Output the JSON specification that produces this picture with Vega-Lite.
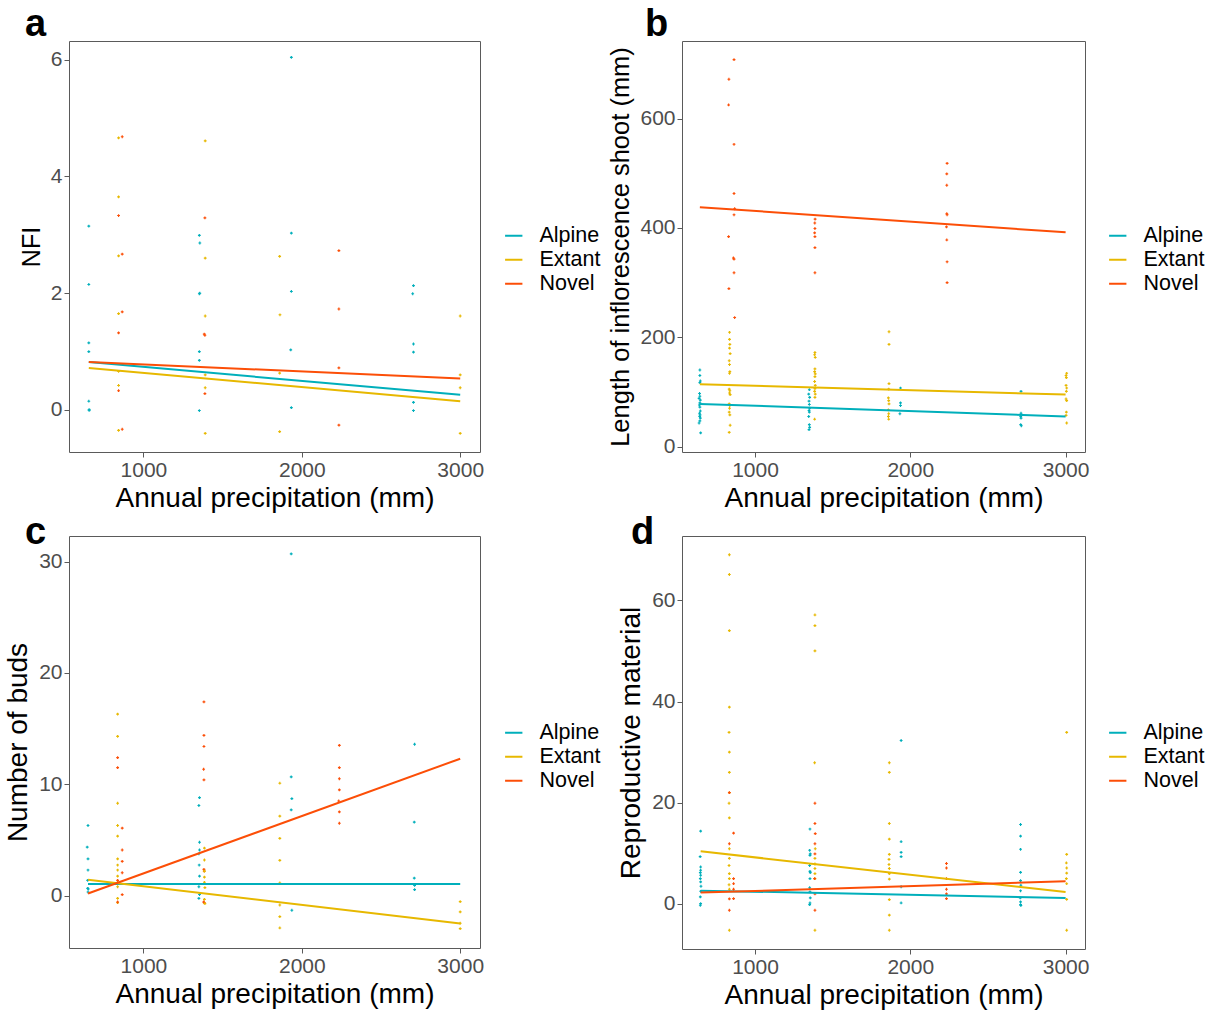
{
  "$schema": "https://vega.github.io/schema/vega-lite/v6.json",
  "padding": {"left": 4, "top": 5, "right": 0, "bottom": 0},
  "background": "white",
  "datasets": {
    "pts": [
      {"p":"a","g":"Alpine","x":655,"y":3.15},{"p":"a","g":"Alpine","x":655,"y":2.15},{"p":"a","g":"Alpine","x":655,"y":1.15},{"p":"a","g":"Alpine","x":655,"y":1.0},{"p":"a","g":"Alpine","x":655,"y":0.15},{"p":"a","g":"Alpine","x":655,"y":0.0},{"p":"a","g":"Alpine","x":660,"y":0.0},
      {"p":"a","g":"Extant","x":843,"y":4.66},{"p":"a","g":"Extant","x":843,"y":3.65},{"p":"a","g":"Extant","x":843,"y":2.64},{"p":"a","g":"Extant","x":843,"y":1.65},{"p":"a","g":"Extant","x":843,"y":0.66},{"p":"a","g":"Extant","x":843,"y":0.42},{"p":"a","g":"Extant","x":843,"y":-0.35},
      {"p":"a","g":"Novel","x":866,"y":4.68},{"p":"a","g":"Novel","x":843,"y":3.33},{"p":"a","g":"Novel","x":866,"y":2.67},{"p":"a","g":"Novel","x":866,"y":1.68},{"p":"a","g":"Novel","x":843,"y":1.32},{"p":"a","g":"Novel","x":843,"y":0.33},{"p":"a","g":"Novel","x":866,"y":-0.33},
      {"p":"a","g":"Alpine","x":1353,"y":2.99},{"p":"a","g":"Alpine","x":1356,"y":2.86},{"p":"a","g":"Alpine","x":1353,"y":1.99},{"p":"a","g":"Alpine","x":1356,"y":2.0},{"p":"a","g":"Alpine","x":1353,"y":1.0},{"p":"a","g":"Alpine","x":1353,"y":0.85},{"p":"a","g":"Alpine","x":1353,"y":-0.01},
      {"p":"a","g":"Extant","x":1390,"y":4.61},{"p":"a","g":"Extant","x":1390,"y":2.6},{"p":"a","g":"Extant","x":1390,"y":1.61},{"p":"a","g":"Extant","x":1390,"y":0.6},{"p":"a","g":"Extant","x":1390,"y":0.38},{"p":"a","g":"Extant","x":1390,"y":-0.4},
      {"p":"a","g":"Novel","x":1388,"y":3.29},{"p":"a","g":"Novel","x":1388,"y":1.28},{"p":"a","g":"Novel","x":1384,"y":1.3},{"p":"a","g":"Novel","x":1388,"y":0.28},
      {"p":"a","g":"Alpine","x":1934,"y":6.04},{"p":"a","g":"Alpine","x":1934,"y":3.03},{"p":"a","g":"Alpine","x":1934,"y":2.03},{"p":"a","g":"Alpine","x":1930,"y":1.03},{"p":"a","g":"Alpine","x":1934,"y":0.04},
      {"p":"a","g":"Extant","x":1860,"y":2.63},{"p":"a","g":"Extant","x":1862,"y":1.63},{"p":"a","g":"Extant","x":1860,"y":0.63},{"p":"a","g":"Extant","x":1860,"y":-0.37},
      {"p":"a","g":"Novel","x":2234,"y":2.73},{"p":"a","g":"Novel","x":2234,"y":1.73},{"p":"a","g":"Novel","x":2234,"y":0.72},{"p":"a","g":"Novel","x":2234,"y":-0.26},
      {"p":"a","g":"Alpine","x":2705,"y":2.13},{"p":"a","g":"Alpine","x":2700,"y":1.99},{"p":"a","g":"Alpine","x":2705,"y":1.13},{"p":"a","g":"Alpine","x":2705,"y":0.99},{"p":"a","g":"Alpine","x":2705,"y":0.13},{"p":"a","g":"Alpine","x":2705,"y":-0.01},
      {"p":"a","g":"Extant","x":3000,"y":1.61},{"p":"a","g":"Extant","x":3000,"y":0.6},{"p":"a","g":"Extant","x":3000,"y":0.38},{"p":"a","g":"Extant","x":3000,"y":-0.4},

      {"p":"b","g":"Alpine","x":645,"y":140},{"p":"b","g":"Alpine","x":645,"y":130},{"p":"b","g":"Alpine","x":648,"y":120},{"p":"b","g":"Alpine","x":645,"y":117},{"p":"b","g":"Alpine","x":643,"y":97},{"p":"b","g":"Alpine","x":645,"y":92},{"p":"b","g":"Alpine","x":640,"y":88},{"p":"b","g":"Alpine","x":648,"y":85},{"p":"b","g":"Alpine","x":645,"y":80},{"p":"b","g":"Alpine","x":642,"y":76},{"p":"b","g":"Alpine","x":645,"y":72},{"p":"b","g":"Alpine","x":648,"y":65},{"p":"b","g":"Alpine","x":643,"y":61},{"p":"b","g":"Alpine","x":646,"y":58},{"p":"b","g":"Alpine","x":644,"y":55},{"p":"b","g":"Alpine","x":648,"y":52},{"p":"b","g":"Alpine","x":645,"y":47},{"p":"b","g":"Alpine","x":640,"y":43},{"p":"b","g":"Alpine","x":650,"y":25},
      {"p":"b","g":"Extant","x":836,"y":209},{"p":"b","g":"Extant","x":836,"y":196},{"p":"b","g":"Extant","x":838,"y":187},{"p":"b","g":"Extant","x":836,"y":180},{"p":"b","g":"Extant","x":840,"y":170},{"p":"b","g":"Extant","x":834,"y":157},{"p":"b","g":"Extant","x":836,"y":150},{"p":"b","g":"Extant","x":838,"y":137},{"p":"b","g":"Extant","x":836,"y":134},{"p":"b","g":"Extant","x":834,"y":105},{"p":"b","g":"Extant","x":838,"y":102},{"p":"b","g":"Extant","x":836,"y":98},{"p":"b","g":"Extant","x":840,"y":95},{"p":"b","g":"Extant","x":834,"y":78},{"p":"b","g":"Extant","x":838,"y":75},{"p":"b","g":"Extant","x":836,"y":70},{"p":"b","g":"Extant","x":834,"y":63},{"p":"b","g":"Extant","x":838,"y":58},{"p":"b","g":"Extant","x":840,"y":39},{"p":"b","g":"Extant","x":834,"y":26},
      {"p":"b","g":"Novel","x":865,"y":708},{"p":"b","g":"Novel","x":832,"y":672},{"p":"b","g":"Novel","x":830,"y":625},{"p":"b","g":"Novel","x":865,"y":553},{"p":"b","g":"Novel","x":865,"y":463},{"p":"b","g":"Novel","x":869,"y":435},{"p":"b","g":"Novel","x":865,"y":424},{"p":"b","g":"Novel","x":830,"y":384},{"p":"b","g":"Novel","x":861,"y":345},{"p":"b","g":"Novel","x":865,"y":343},{"p":"b","g":"Novel","x":865,"y":318},{"p":"b","g":"Novel","x":832,"y":289},{"p":"b","g":"Novel","x":869,"y":236},
      {"p":"b","g":"Alpine","x":1350,"y":104},{"p":"b","g":"Alpine","x":1346,"y":96},{"p":"b","g":"Alpine","x":1352,"y":90},{"p":"b","g":"Alpine","x":1348,"y":83},{"p":"b","g":"Alpine","x":1350,"y":77},{"p":"b","g":"Alpine","x":1352,"y":70},{"p":"b","g":"Alpine","x":1348,"y":66},{"p":"b","g":"Alpine","x":1350,"y":63},{"p":"b","g":"Alpine","x":1346,"y":55},{"p":"b","g":"Alpine","x":1350,"y":40},{"p":"b","g":"Alpine","x":1352,"y":35},{"p":"b","g":"Alpine","x":1348,"y":31},
      {"p":"b","g":"Extant","x":1386,"y":172},{"p":"b","g":"Extant","x":1384,"y":168},{"p":"b","g":"Extant","x":1388,"y":163},{"p":"b","g":"Extant","x":1386,"y":142},{"p":"b","g":"Extant","x":1384,"y":137},{"p":"b","g":"Extant","x":1388,"y":133},{"p":"b","g":"Extant","x":1386,"y":128},{"p":"b","g":"Extant","x":1384,"y":119},{"p":"b","g":"Extant","x":1388,"y":112},{"p":"b","g":"Extant","x":1386,"y":106},{"p":"b","g":"Extant","x":1384,"y":101},{"p":"b","g":"Extant","x":1388,"y":96},{"p":"b","g":"Extant","x":1386,"y":90},{"p":"b","g":"Extant","x":1384,"y":50},
      {"p":"b","g":"Novel","x":1387,"y":416},{"p":"b","g":"Novel","x":1385,"y":409},{"p":"b","g":"Novel","x":1386,"y":399},{"p":"b","g":"Novel","x":1384,"y":391},{"p":"b","g":"Novel","x":1386,"y":384},{"p":"b","g":"Novel","x":1386,"y":364},{"p":"b","g":"Novel","x":1386,"y":318},
      {"p":"b","g":"Extant","x":1863,"y":210},{"p":"b","g":"Extant","x":1863,"y":187},{"p":"b","g":"Extant","x":1863,"y":115},{"p":"b","g":"Extant","x":1861,"y":105},{"p":"b","g":"Extant","x":1859,"y":89},{"p":"b","g":"Extant","x":1861,"y":84},{"p":"b","g":"Extant","x":1863,"y":78},{"p":"b","g":"Extant","x":1859,"y":67},{"p":"b","g":"Extant","x":1861,"y":60},{"p":"b","g":"Extant","x":1859,"y":55},{"p":"b","g":"Extant","x":1861,"y":50},
      {"p":"b","g":"Alpine","x":1937,"y":107},{"p":"b","g":"Alpine","x":1937,"y":80},{"p":"b","g":"Alpine","x":1937,"y":75},{"p":"b","g":"Alpine","x":1933,"y":60},
      {"p":"b","g":"Novel","x":2237,"y":518},{"p":"b","g":"Novel","x":2235,"y":499},{"p":"b","g":"Novel","x":2235,"y":478},{"p":"b","g":"Novel","x":2235,"y":426},{"p":"b","g":"Novel","x":2237,"y":424},{"p":"b","g":"Novel","x":2233,"y":402},{"p":"b","g":"Novel","x":2235,"y":378},{"p":"b","g":"Novel","x":2237,"y":338},{"p":"b","g":"Novel","x":2237,"y":300},
      {"p":"b","g":"Alpine","x":2713,"y":101},{"p":"b","g":"Alpine","x":2713,"y":61},{"p":"b","g":"Alpine","x":2711,"y":55},{"p":"b","g":"Alpine","x":2713,"y":52},{"p":"b","g":"Alpine","x":2711,"y":40},{"p":"b","g":"Alpine","x":2715,"y":38},
      {"p":"b","g":"Extant","x":3007,"y":134},{"p":"b","g":"Extant","x":3003,"y":130},{"p":"b","g":"Extant","x":3005,"y":126},{"p":"b","g":"Extant","x":3003,"y":112},{"p":"b","g":"Extant","x":3007,"y":107},{"p":"b","g":"Extant","x":3005,"y":101},{"p":"b","g":"Extant","x":3003,"y":87},{"p":"b","g":"Extant","x":3007,"y":84},{"p":"b","g":"Extant","x":3005,"y":63},{"p":"b","g":"Extant","x":3003,"y":57},{"p":"b","g":"Extant","x":3007,"y":43},

      {"p":"c","g":"Alpine","x":650,"y":6.3},{"p":"c","g":"Alpine","x":645,"y":4.36},{"p":"c","g":"Alpine","x":650,"y":3.3},{"p":"c","g":"Alpine","x":650,"y":2.3},{"p":"c","g":"Alpine","x":648,"y":1.37},{"p":"c","g":"Alpine","x":648,"y":0.66},{"p":"c","g":"Alpine","x":652,"y":0.6},{"p":"c","g":"Alpine","x":650,"y":0.33},
      {"p":"c","g":"Extant","x":837,"y":16.3},{"p":"c","g":"Extant","x":837,"y":14.3},{"p":"c","g":"Extant","x":837,"y":8.3},{"p":"c","g":"Extant","x":837,"y":6.3},{"p":"c","g":"Extant","x":837,"y":5.35},{"p":"c","g":"Extant","x":837,"y":3.3},{"p":"c","g":"Extant","x":837,"y":2.75},{"p":"c","g":"Extant","x":837,"y":2.3},{"p":"c","g":"Extant","x":837,"y":1.76},{"p":"c","g":"Extant","x":837,"y":1.2},{"p":"c","g":"Extant","x":837,"y":0.8},{"p":"c","g":"Extant","x":837,"y":-0.24},{"p":"c","g":"Extant","x":837,"y":-0.63},
      {"p":"c","g":"Novel","x":837,"y":12.4},{"p":"c","g":"Novel","x":837,"y":11.5},{"p":"c","g":"Novel","x":866,"y":6.07},{"p":"c","g":"Novel","x":866,"y":4.1},{"p":"c","g":"Novel","x":866,"y":3.08},{"p":"c","g":"Novel","x":866,"y":2.06},{"p":"c","g":"Novel","x":837,"y":1.37},{"p":"c","g":"Novel","x":866,"y":0.09},{"p":"c","g":"Novel","x":837,"y":-0.57},
      {"p":"c","g":"Alpine","x":1354,"y":8.8},{"p":"c","g":"Alpine","x":1350,"y":8.1},{"p":"c","g":"Alpine","x":1354,"y":4.8},{"p":"c","g":"Alpine","x":1354,"y":4.1},{"p":"c","g":"Alpine","x":1350,"y":3.76},{"p":"c","g":"Alpine","x":1352,"y":2.75},{"p":"c","g":"Alpine","x":1354,"y":1.76},{"p":"c","g":"Alpine","x":1350,"y":0.8},{"p":"c","g":"Alpine","x":1354,"y":0.1},{"p":"c","g":"Alpine","x":1350,"y":-0.24},
      {"p":"c","g":"Novel","x":1382,"y":17.4},{"p":"c","g":"Novel","x":1382,"y":14.4},{"p":"c","g":"Novel","x":1382,"y":13.4},{"p":"c","g":"Novel","x":1380,"y":11.35},{"p":"c","g":"Novel","x":1382,"y":10.4},{"p":"c","g":"Novel","x":1382,"y":2.36},{"p":"c","g":"Novel","x":1384,"y":2.2},{"p":"c","g":"Novel","x":1380,"y":-0.57},{"p":"c","g":"Novel","x":1384,"y":-0.63},
      {"p":"c","g":"Extant","x":1385,"y":4.27},{"p":"c","g":"Extant","x":1385,"y":3.2},{"p":"c","g":"Extant","x":1385,"y":2.2},{"p":"c","g":"Extant","x":1385,"y":1.67},{"p":"c","g":"Extant","x":1385,"y":1.2},{"p":"c","g":"Extant","x":1388,"y":0.72},{"p":"c","g":"Extant","x":1385,"y":-0.33},{"p":"c","g":"Extant","x":1388,"y":-0.72},
      {"p":"c","g":"Extant","x":1861,"y":10.1},{"p":"c","g":"Extant","x":1861,"y":7.14},{"p":"c","g":"Extant","x":1861,"y":5.14},{"p":"c","g":"Extant","x":1861,"y":3.17},{"p":"c","g":"Extant","x":1861,"y":1.14},{"p":"c","g":"Extant","x":1861,"y":-0.84},{"p":"c","g":"Extant","x":1861,"y":-1.88},{"p":"c","g":"Extant","x":1861,"y":-2.9},
      {"p":"c","g":"Alpine","x":1933,"y":30.7},{"p":"c","g":"Alpine","x":1933,"y":10.67},{"p":"c","g":"Alpine","x":1937,"y":8.72},{"p":"c","g":"Alpine","x":1933,"y":7.7},{"p":"c","g":"Alpine","x":1937,"y":-1.31},
      {"p":"c","g":"Novel","x":2237,"y":13.5},{"p":"c","g":"Novel","x":2237,"y":11.5},{"p":"c","g":"Novel","x":2237,"y":10.5},{"p":"c","g":"Novel","x":2237,"y":9.5},{"p":"c","g":"Novel","x":2233,"y":8.5},{"p":"c","g":"Novel","x":2237,"y":7.53},{"p":"c","g":"Novel","x":2237,"y":6.5},
      {"p":"c","g":"Alpine","x":2712,"y":13.6},{"p":"c","g":"Alpine","x":2710,"y":6.6},{"p":"c","g":"Alpine","x":2710,"y":1.58},{"p":"c","g":"Alpine","x":2712,"y":0.93},{"p":"c","g":"Alpine","x":2712,"y":0.54},
      {"p":"c","g":"Extant","x":3000,"y":-0.54},{"p":"c","g":"Extant","x":3000,"y":-1.46},{"p":"c","g":"Extant","x":3000,"y":-2.48},{"p":"c","g":"Extant","x":3000,"y":-2.96},

      {"p":"d","g":"Alpine","x":650,"y":14.4},{"p":"d","g":"Alpine","x":647,"y":9.35},{"p":"d","g":"Alpine","x":650,"y":7.3},{"p":"d","g":"Alpine","x":650,"y":6.65},{"p":"d","g":"Alpine","x":648,"y":6.2},{"p":"d","g":"Alpine","x":650,"y":5.67},{"p":"d","g":"Alpine","x":648,"y":5.0},{"p":"d","g":"Alpine","x":650,"y":4.35},{"p":"d","g":"Alpine","x":652,"y":3.5},{"p":"d","g":"Alpine","x":650,"y":2.5},{"p":"d","g":"Alpine","x":648,"y":1.4},{"p":"d","g":"Alpine","x":650,"y":0.07},{"p":"d","g":"Alpine","x":648,"y":-0.26},
      {"p":"d","g":"Extant","x":835,"y":69.0},{"p":"d","g":"Extant","x":835,"y":65.1},{"p":"d","g":"Extant","x":835,"y":54.0},{"p":"d","g":"Extant","x":835,"y":38.9},{"p":"d","g":"Extant","x":833,"y":33.9},{"p":"d","g":"Extant","x":835,"y":30.0},{"p":"d","g":"Extant","x":835,"y":26.0},{"p":"d","g":"Extant","x":835,"y":22.0},{"p":"d","g":"Extant","x":833,"y":19.9},{"p":"d","g":"Extant","x":835,"y":17.0},{"p":"d","g":"Extant","x":835,"y":10.9},{"p":"d","g":"Extant","x":835,"y":9.0},{"p":"d","g":"Extant","x":833,"y":7.6},{"p":"d","g":"Extant","x":835,"y":6.0},{"p":"d","g":"Extant","x":835,"y":5.0},{"p":"d","g":"Extant","x":833,"y":3.8},{"p":"d","g":"Extant","x":835,"y":2.9},{"p":"d","g":"Extant","x":835,"y":-5.2},
      {"p":"d","g":"Novel","x":835,"y":22.0},{"p":"d","g":"Novel","x":862,"y":14.0},{"p":"d","g":"Novel","x":835,"y":11.9},{"p":"d","g":"Novel","x":862,"y":5.0},{"p":"d","g":"Novel","x":862,"y":4.0},{"p":"d","g":"Novel","x":862,"y":2.9},{"p":"d","g":"Novel","x":862,"y":1.05},{"p":"d","g":"Novel","x":835,"y":1.0},{"p":"d","g":"Novel","x":835,"y":-1.25},
      {"p":"d","g":"Alpine","x":1354,"y":14.8},{"p":"d","g":"Alpine","x":1352,"y":10.6},{"p":"d","g":"Alpine","x":1356,"y":9.9},{"p":"d","g":"Alpine","x":1354,"y":9.6},{"p":"d","g":"Alpine","x":1352,"y":7.6},{"p":"d","g":"Alpine","x":1354,"y":6.45},{"p":"d","g":"Alpine","x":1356,"y":6.2},{"p":"d","g":"Alpine","x":1354,"y":5.0},{"p":"d","g":"Alpine","x":1352,"y":3.2},{"p":"d","g":"Alpine","x":1354,"y":2.4},{"p":"d","g":"Alpine","x":1356,"y":1.2},{"p":"d","g":"Alpine","x":1354,"y":0.2},{"p":"d","g":"Alpine","x":1352,"y":-0.13},
      {"p":"d","g":"Extant","x":1386,"y":57.1},{"p":"d","g":"Extant","x":1386,"y":55.0},{"p":"d","g":"Extant","x":1386,"y":50.0},{"p":"d","g":"Extant","x":1384,"y":27.9},{"p":"d","g":"Extant","x":1388,"y":10.9},{"p":"d","g":"Extant","x":1386,"y":9.0},{"p":"d","g":"Extant","x":1386,"y":7.9},{"p":"d","g":"Extant","x":1386,"y":7.0},{"p":"d","g":"Extant","x":1386,"y":6.0},{"p":"d","g":"Extant","x":1386,"y":5.0},{"p":"d","g":"Extant","x":1386,"y":-5.2},
      {"p":"d","g":"Novel","x":1386,"y":19.9},{"p":"d","g":"Novel","x":1386,"y":15.9},{"p":"d","g":"Novel","x":1388,"y":13.9},{"p":"d","g":"Novel","x":1386,"y":11.9},{"p":"d","g":"Novel","x":1386,"y":9.9},{"p":"d","g":"Novel","x":1384,"y":5.0},{"p":"d","g":"Novel","x":1386,"y":2.0},{"p":"d","g":"Novel","x":1386,"y":-1.25},
      {"p":"d","g":"Extant","x":1865,"y":27.9},{"p":"d","g":"Extant","x":1865,"y":26.0},{"p":"d","g":"Extant","x":1865,"y":15.9},{"p":"d","g":"Extant","x":1865,"y":12.8},{"p":"d","g":"Extant","x":1865,"y":9.8},{"p":"d","g":"Extant","x":1863,"y":8.8},{"p":"d","g":"Extant","x":1863,"y":7.8},{"p":"d","g":"Extant","x":1865,"y":7.0},{"p":"d","g":"Extant","x":1865,"y":6.0},{"p":"d","g":"Extant","x":1865,"y":4.9},{"p":"d","g":"Extant","x":1865,"y":0.86},{"p":"d","g":"Extant","x":1865,"y":-2.2},{"p":"d","g":"Extant","x":1865,"y":-5.2},
      {"p":"d","g":"Alpine","x":1941,"y":32.3},{"p":"d","g":"Alpine","x":1941,"y":12.3},{"p":"d","g":"Alpine","x":1941,"y":10.2},{"p":"d","g":"Alpine","x":1941,"y":9.35},{"p":"d","g":"Alpine","x":1941,"y":3.4},{"p":"d","g":"Alpine","x":1941,"y":0.2},
      {"p":"d","g":"Novel","x":2233,"y":8.0},{"p":"d","g":"Novel","x":2233,"y":7.1},{"p":"d","g":"Novel","x":2233,"y":5.0},{"p":"d","g":"Novel","x":2233,"y":2.9},{"p":"d","g":"Novel","x":2233,"y":2.0},{"p":"d","g":"Novel","x":2233,"y":1.05},
      {"p":"d","g":"Alpine","x":2710,"y":15.7},{"p":"d","g":"Alpine","x":2710,"y":13.4},{"p":"d","g":"Alpine","x":2710,"y":10.8},{"p":"d","g":"Alpine","x":2710,"y":6.25},{"p":"d","g":"Alpine","x":2710,"y":4.6},{"p":"d","g":"Alpine","x":2712,"y":3.7},{"p":"d","g":"Alpine","x":2710,"y":2.6},{"p":"d","g":"Alpine","x":2708,"y":1.2},{"p":"d","g":"Alpine","x":2710,"y":0.4},{"p":"d","g":"Alpine","x":2710,"y":-0.13},{"p":"d","g":"Alpine","x":2712,"y":-0.3},
      {"p":"d","g":"Extant","x":3007,"y":33.9},{"p":"d","g":"Extant","x":3007,"y":9.8},{"p":"d","g":"Extant","x":3005,"y":8.1},{"p":"d","g":"Extant","x":3007,"y":7.1},{"p":"d","g":"Extant","x":3007,"y":6.1},{"p":"d","g":"Extant","x":3005,"y":5.0},{"p":"d","g":"Extant","x":3007,"y":4.0},{"p":"d","g":"Extant","x":3007,"y":0.9},{"p":"d","g":"Extant","x":3007,"y":-5.2}
    ],
    "lines": [
      {"p":"a","g":"Alpine","x":655,"y":0.82},{"p":"a","g":"Alpine","x":3000,"y":0.26},
      {"p":"a","g":"Extant","x":655,"y":0.72},{"p":"a","g":"Extant","x":3000,"y":0.15},
      {"p":"a","g":"Novel","x":655,"y":0.82},{"p":"a","g":"Novel","x":3000,"y":0.54},
      {"p":"b","g":"Alpine","x":645,"y":78},{"p":"b","g":"Alpine","x":3000,"y":55},
      {"p":"b","g":"Extant","x":645,"y":114},{"p":"b","g":"Extant","x":3000,"y":95},
      {"p":"b","g":"Novel","x":645,"y":438},{"p":"b","g":"Novel","x":3000,"y":392},
      {"p":"c","g":"Alpine","x":650,"y":1.05},{"p":"c","g":"Alpine","x":3000,"y":1.05},
      {"p":"c","g":"Extant","x":650,"y":1.43},{"p":"c","g":"Extant","x":3000,"y":-2.5},
      {"p":"c","g":"Novel","x":650,"y":0.2},{"p":"c","g":"Novel","x":3000,"y":12.3},
      {"p":"d","g":"Alpine","x":650,"y":2.63},{"p":"d","g":"Alpine","x":3000,"y":1.19},
      {"p":"d","g":"Extant","x":650,"y":10.4},{"p":"d","g":"Extant","x":3000,"y":2.37},
      {"p":"d","g":"Novel","x":650,"y":2.24},{"p":"d","g":"Novel","x":3000,"y":4.48}
    ]
  },
  "config": {
    "font": "Liberation Sans",
    "view": {"stroke": "#5a5a5a", "strokeWidth": 1},
    "axis": {"grid": false, "domain": false, "tickColor": "#5a5a5a", "tickSize": 5, "labelFontSize": 21, "labelColor": "#4d4d4d", "labelPadding": 2, "titleFontSize": 28, "titleFontWeight": "normal", "titleColor": "#000000", "titlePadding": 4, "format": "d"},
    "axisY": {"titlePadding": 6},
    "legend": {"labelFontSize": 21.5, "labelColor": "#000000", "symbolStrokeWidth": 2, "symbolSize": 300, "labelOffset": 15, "rowPadding": 1, "padding": 0},
    "title": {"fontSize": 38, "fontWeight": "bold", "anchor": "start", "frame": "group", "color": "#000000"}
  },
  "columns": 2,
  "spacing": {"row": 0, "column": 6},
  "resolve": {"scale": {"x": "independent", "y": "independent"}, "legend": {"stroke": "independent"}},
  "concat": [
    {
      "width": 411, "height": 411,
      "title": {"text": "a", "dx": -44, "offset": -3},
      "layer": [
        {"data": {"name": "pts"}, "transform": [{"filter": "datum.p == 'a'"}],
         "mark": {"type": "point", "shape": "cross", "filled": true, "size": 8, "opacity": 1},
         "encoding": {
           "x": {"field": "x", "type": "quantitative", "scale": {"domain": [530, 3125], "nice": false, "zero": false}, "axis": {"values": [1000, 2000, 3000], "title": "Annual precipitation (mm)"}},
           "y": {"field": "y", "type": "quantitative", "scale": {"domain": [-0.72, 6.32], "nice": false, "zero": false}, "axis": {"values": [0, 2, 4, 6], "title": "NFI", "titleFontSize": 25}},
           "fill": {"field": "g", "type": "nominal", "scale": {"domain": ["Alpine", "Extant", "Novel"], "range": ["#00AFBB", "#E7B800", "#FC4E07"]}, "legend": null}
         }},
        {"data": {"name": "lines"}, "transform": [{"filter": "datum.p == 'a'"}],
         "mark": {"type": "line", "strokeWidth": 2},
         "encoding": {
           "x": {"field": "x", "type": "quantitative"},
           "y": {"field": "y", "type": "quantitative"},
           "stroke": {"field": "g", "type": "nominal", "scale": {"domain": ["Alpine", "Extant", "Novel"], "range": ["#00AFBB", "#E7B800", "#FC4E07"]}, "legend": {"title": null, "orient": "none", "legendX": 434, "legendY": 184}}
         }}
      ]
    },
    {
      "width": 403, "height": 411,
      "title": {"text": "b", "dx": -37, "offset": -3},
      "layer": [
        {"data": {"name": "pts"}, "transform": [{"filter": "datum.p == 'b'"}],
         "mark": {"type": "point", "shape": "cross", "filled": true, "size": 8, "opacity": 1},
         "encoding": {
           "x": {"field": "x", "type": "quantitative", "scale": {"domain": [530, 3125], "nice": false, "zero": false}, "axis": {"values": [1000, 2000, 3000], "title": "Annual precipitation (mm)"}},
           "y": {"field": "y", "type": "quantitative", "scale": {"domain": [-10, 742], "nice": false, "zero": false}, "axis": {"values": [0, 200, 400, 600], "title": "Length of inflorescence shoot (mm)", "titleFontSize": 25.5}},
           "fill": {"field": "g", "type": "nominal", "scale": {"domain": ["Alpine", "Extant", "Novel"], "range": ["#00AFBB", "#E7B800", "#FC4E07"]}, "legend": null}
         }},
        {"data": {"name": "lines"}, "transform": [{"filter": "datum.p == 'b'"}],
         "mark": {"type": "line", "strokeWidth": 2},
         "encoding": {
           "x": {"field": "x", "type": "quantitative"},
           "y": {"field": "y", "type": "quantitative"},
           "stroke": {"field": "g", "type": "nominal", "scale": {"domain": ["Alpine", "Extant", "Novel"], "range": ["#00AFBB", "#E7B800", "#FC4E07"]}, "legend": {"title": null, "orient": "none", "legendX": 425, "legendY": 184}}
         }}
      ]
    },
    {
      "width": 411, "height": 412,
      "title": {"text": "c", "dx": -44, "offset": -16},
      "layer": [
        {"data": {"name": "pts"}, "transform": [{"filter": "datum.p == 'c'"}],
         "mark": {"type": "point", "shape": "cross", "filled": true, "size": 8, "opacity": 1},
         "encoding": {
           "x": {"field": "x", "type": "quantitative", "scale": {"domain": [530, 3125], "nice": false, "zero": false}, "axis": {"values": [1000, 2000, 3000], "title": "Annual precipitation (mm)"}},
           "y": {"field": "y", "type": "quantitative", "scale": {"domain": [-4.7, 32.3], "nice": false, "zero": false}, "axis": {"values": [0, 10, 20, 30], "title": "Number of buds"}},
           "fill": {"field": "g", "type": "nominal", "scale": {"domain": ["Alpine", "Extant", "Novel"], "range": ["#00AFBB", "#E7B800", "#FC4E07"]}, "legend": null}
         }},
        {"data": {"name": "lines"}, "transform": [{"filter": "datum.p == 'c'"}],
         "mark": {"type": "line", "strokeWidth": 2},
         "encoding": {
           "x": {"field": "x", "type": "quantitative"},
           "y": {"field": "y", "type": "quantitative"},
           "stroke": {"field": "g", "type": "nominal", "scale": {"domain": ["Alpine", "Extant", "Novel"], "range": ["#00AFBB", "#E7B800", "#FC4E07"]}, "legend": {"title": null, "orient": "none", "legendX": 434, "legendY": 186}}
         }}
      ]
    },
    {
      "width": 403, "height": 413,
      "title": {"text": "d", "dx": -51, "offset": -16},
      "layer": [
        {"data": {"name": "pts"}, "transform": [{"filter": "datum.p == 'd'"}],
         "mark": {"type": "point", "shape": "cross", "filled": true, "size": 8, "opacity": 1},
         "encoding": {
           "x": {"field": "x", "type": "quantitative", "scale": {"domain": [530, 3125], "nice": false, "zero": false}, "axis": {"values": [1000, 2000, 3000], "title": "Annual precipitation (mm)"}},
           "y": {"field": "y", "type": "quantitative", "scale": {"domain": [-8.9, 72.7], "nice": false, "zero": false}, "axis": {"values": [0, 20, 40, 60], "title": "Reproductive material"}},
           "fill": {"field": "g", "type": "nominal", "scale": {"domain": ["Alpine", "Extant", "Novel"], "range": ["#00AFBB", "#E7B800", "#FC4E07"]}, "legend": null}
         }},
        {"data": {"name": "lines"}, "transform": [{"filter": "datum.p == 'd'"}],
         "mark": {"type": "line", "strokeWidth": 2},
         "encoding": {
           "x": {"field": "x", "type": "quantitative"},
           "y": {"field": "y", "type": "quantitative"},
           "stroke": {"field": "g", "type": "nominal", "scale": {"domain": ["Alpine", "Extant", "Novel"], "range": ["#00AFBB", "#E7B800", "#FC4E07"]}, "legend": {"title": null, "orient": "none", "legendX": 425, "legendY": 186}}
         }}
      ]
    }
  ]
}
